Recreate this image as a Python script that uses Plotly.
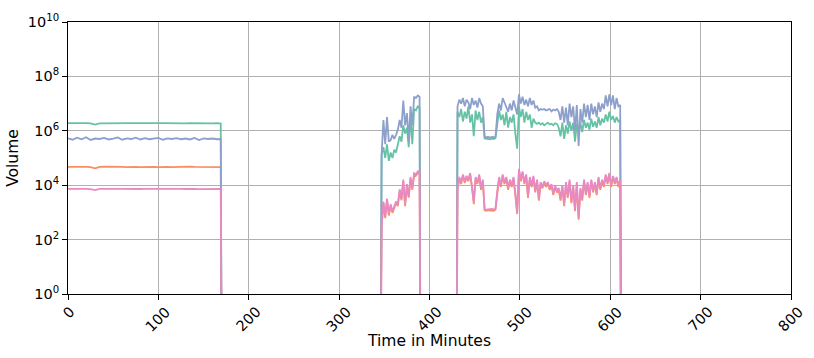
import plotly.graph_objects as go

# ---- time axis (minutes) for each active segment ----
seg1_t = list(range(0, 170, 5)) + [169]
seg2_t = list(range(347, 391, 2))
seg3_t = list(range(431, 612, 2))
gap_t = {"after1": [170], "before2": [346], "after2": [390], "before3": [430], "after3": [612]}

# ---- series values (volume) ----
green_s1 = [1.9e6, 1.92e6, 1.88e6, 1.91e6, 1.9e6, 1.87e6, 1.7e6, 1.89e6, 1.91e6, 1.9e6,
            1.88e6, 1.92e6, 1.9e6, 1.89e6, 1.91e6, 1.9e6, 1.88e6, 1.9e6, 1.91e6, 1.89e6,
            1.9e6, 1.92e6, 1.9e6, 1.88e6, 1.91e6, 1.9e6, 1.89e6, 1.93e6, 1.9e6, 1.89e6,
            1.91e6, 1.9e6, 1.88e6, 1.9e6, 1.86e6]
orange_s1 = [4.7e4, 4.8e4, 4.6e4, 4.75e4, 4.7e4, 4.65e4, 4.2e4, 4.7e4, 4.8e4, 4.7e4,
             4.6e4, 4.75e4, 4.7e4, 4.65e4, 4.8e4, 4.7e4, 4.6e4, 4.7e4, 4.75e4, 4.7e4,
             4.65e4, 4.8e4, 4.7e4, 4.6e4, 4.7e4, 4.75e4, 4.7e4, 4.8e4, 4.7e4, 4.65e4,
             4.7e4, 4.75e4, 4.7e4, 4.65e4, 4.6e4]
blue_s1 = [5.3e5, 4.7e5, 5.6e5, 4.9e5, 5.8e5, 4.6e5, 5.2e5, 5.0e5, 5.5e5, 4.8e5,
           5.2e5, 5.7e5, 4.7e5, 5.3e5, 5.0e5, 5.6e5, 4.8e5, 5.4e5, 4.9e5, 5.2e5,
           5.5e5, 4.7e5, 5.3e5, 5.0e5, 5.4e5, 4.9e5, 5.2e5, 4.8e5, 5.5e5, 4.6e5,
           5.3e5, 5.0e5, 5.2e5, 4.9e5, 5.0e5]
pink_s1 = [7.3e3, 7.4e3, 7.2e3, 7.35e3, 7.3e3, 7.2e3, 6.6e3, 7.3e3, 7.4e3, 7.3e3,
           7.2e3, 7.35e3, 7.3e3, 7.2e3, 7.4e3, 7.3e3, 7.25e3, 7.3e3, 7.35e3, 7.3e3,
           7.2e3, 7.4e3, 7.3e3, 7.2e3, 7.3e3, 7.35e3, 7.25e3, 7.4e3, 7.3e3, 7.2e3,
           7.3e3, 7.35e3, 7.3e3, 7.2e3, 7.3e3]

green_s2 = [1.3e5, 2.5e5, 1.0e5, 3.2e5, 7.9e4, 1.6e5, 1.0e5, 2.0e5, 1.6e5, 3.2e5,
            6.3e5, 4.0e5, 1.6e6, 7.9e5, 1.3e6, 2.5e5, 3.2e6, 3.2e5, 6.3e6, 5.6e6,
            7.9e6, 7.1e6]
orange_s2 = [2.8e2, 2.2e3, 6.2e2, 2.8e3, 7.7e2, 1.7e3, 9.6e2, 1.4e3, 2.2e3, 1.7e3,
             6.2e3, 2.8e3, 1.4e4, 1.7e3, 9.6e3, 3.5e3, 1.7e4, 6.8e3, 2.4e4, 2.2e4,
             2.8e4, 2.8e4]
blue_s2 = [1.3e5, 2.5e6, 3.2e5, 3.2e6, 4.0e5, 4.5e5, 7.1e5, 5.0e5, 7.1e5, 1.1e6,
           2.5e6, 1.3e6, 1.3e7, 1.6e6, 4.5e6, 4.0e5, 7.9e6, 1.6e6, 1.8e7, 1.6e7,
           2.0e7, 1.8e7]
pink_s2 = [3.2e2, 2.5e3, 7.1e2, 3.2e3, 8.9e2, 2.0e3, 1.1e3, 1.6e3, 2.5e3, 2.0e3,
           7.1e3, 3.2e3, 1.6e4, 2.0e3, 1.1e4, 4.0e3, 2.0e4, 7.9e3, 2.8e4, 2.5e4,
           3.2e4, 3.2e4]

green_s3 = [5.0e6, 3.2e6, 6.3e6, 2.2e6, 5.0e6, 2.8e6, 7.9e6, 2.0e6, 4.0e6, 6.3e5,
            5.6e6, 2.5e6, 5.0e6, 2.0e6, 3.2e6, 5.2e5, 5.0e5, 5.1e5, 4.9e5, 5.2e5,
            5.0e5, 5.4e5, 2.0e6, 5.6e6, 2.5e6, 4.0e6, 1.6e6, 5.0e6, 1.3e6, 3.2e6,
            2.0e6, 4.0e6, 7.9e5, 2.2e5, 7.9e6, 3.2e6, 6.3e6, 2.0e6, 5.0e6, 2.5e6,
            4.0e6, 1.3e6, 2.8e6, 2.0e6, 1.8e6, 2.0e6, 1.7e6, 1.9e6, 1.6e6, 1.8e6,
            2.0e6, 1.7e6, 1.8e6, 1.6e6, 1.9e6, 1.8e6, 1.3e6, 6.3e5, 2.0e6, 5.0e5,
            1.6e6, 7.9e5, 2.2e6, 1.0e6, 2.0e6, 4.0e5, 1.8e6, 7.9e5, 2.0e6, 8.9e5,
            2.5e6, 1.3e6, 2.0e6, 1.1e6, 2.8e6, 1.4e6, 2.2e6, 1.3e6, 3.2e6, 1.6e6,
            2.8e6, 2.0e6, 4.0e6, 2.2e6, 5.0e6, 2.5e6, 3.5e6, 2.0e6, 3.2e6, 2.2e6, 2.5e6]
orange_s3 = [6.8e3, 1.7e4, 1.1e4, 2.2e4, 1.2e4, 1.9e4, 1.4e4, 2.4e4, 8.6e3, 2.0e3,
             1.7e4, 1.1e4, 2.2e4, 6.8e3, 1.4e4, 1.2e3, 1.15e3, 1.2e3, 1.18e3, 1.22e3,
             1.15e3, 1.25e3, 5.4e3, 1.7e4, 8.6e3, 2.2e4, 1.1e4, 1.7e4, 6.8e3, 1.4e4,
             8.6e3, 1.7e4, 4.3e3, 8.7e2, 3.5e4, 1.4e4, 2.8e4, 1.1e4, 2.2e4, 3.4e3,
             1.7e4, 8.6e3, 1.9e4, 5.4e3, 1.4e4, 2.7e3, 1.1e4, 7.7e3, 1.2e4, 8.6e3,
             1.1e4, 6.8e3, 9.5e3, 4.3e3, 8.6e3, 5.4e3, 6.8e3, 2.7e3, 8.6e3, 1.7e3,
             1.1e4, 3.4e3, 1.4e4, 2.2e3, 8.6e3, 1.1e3, 1.1e4, 5.4e2, 6.8e3, 2.7e3,
             1.4e4, 4.3e3, 1.1e4, 3.4e3, 1.4e4, 5.4e3, 1.1e4, 4.3e3, 1.7e4, 6.8e3,
             1.4e4, 8.6e3, 2.2e4, 1.1e4, 2.4e4, 8.6e3, 1.9e4, 1.1e4, 1.7e4, 8.6e3, 1.4e4]
blue_s3 = [7.9e6, 1.4e7, 1.0e7, 1.6e7, 7.9e6, 1.4e7, 1.1e7, 6.3e6, 1.6e7, 8.9e6,
           1.3e7, 7.1e6, 1.6e7, 1.0e7, 7.9e6, 6.0e5, 5.8e5, 5.9e5, 5.6e5, 5.9e5,
           5.8e5, 6.0e5, 4.0e6, 1.0e7, 5.6e6, 1.6e7, 1.1e7, 7.9e6, 5.0e6, 1.0e7,
           5.6e6, 1.3e7, 7.1e6, 4.0e6, 2.2e7, 1.0e7, 1.8e7, 8.9e6, 1.4e7, 7.9e6,
           1.6e7, 8.9e6, 1.3e7, 7.1e6, 7.9e6, 5.6e6, 6.3e6, 6.0e6, 6.3e6, 5.6e6,
           6.0e6, 6.3e6, 5.2e6, 6.0e6, 5.6e6, 6.3e6, 5.0e6, 2.5e6, 7.9e6, 2.0e6,
           7.1e6, 1.6e6, 1.0e7, 3.2e6, 7.9e6, 1.0e6, 8.9e6, 2.8e5, 6.3e6, 2.0e6,
           1.0e7, 3.2e6, 8.9e6, 2.5e6, 1.0e7, 4.0e6, 7.9e6, 3.2e6, 1.1e7, 5.0e6,
           1.0e7, 6.3e6, 2.0e7, 7.9e6, 2.2e7, 8.9e6, 2.0e7, 6.3e6, 1.6e7, 7.9e6, 8.9e6]
pink_s3 = [7.9e3, 2.0e4, 1.3e4, 2.5e4, 1.4e4, 2.2e4, 1.6e4, 2.8e4, 1.0e4, 2.5e3,
           2.0e4, 1.3e4, 2.5e4, 7.9e3, 1.6e4, 1.3e3, 1.26e3, 1.3e3, 1.29e3, 1.35e3,
           1.26e3, 1.4e3, 6.3e3, 2.0e4, 1.0e4, 2.5e4, 1.3e4, 2.0e4, 7.9e3, 1.6e4,
           1.0e4, 2.0e4, 5.0e3, 1.0e3, 4.0e4, 1.6e4, 3.2e4, 1.3e4, 2.5e4, 4.0e3,
           2.0e4, 1.0e4, 2.2e4, 6.3e3, 1.6e4, 3.2e3, 1.3e4, 8.9e3, 1.4e4, 1.0e4,
           1.3e4, 7.9e3, 1.1e4, 5.0e3, 1.0e4, 6.3e3, 7.9e3, 3.2e3, 1.0e4, 2.0e3,
           1.3e4, 4.0e3, 1.6e4, 2.5e3, 1.0e4, 1.26e3, 1.3e4, 6.3e2, 7.9e3, 3.2e3,
           1.6e4, 5.0e3, 1.3e4, 4.0e3, 1.6e4, 6.3e3, 1.3e4, 5.0e3, 2.0e4, 7.9e3,
           1.6e4, 1.0e4, 2.5e4, 1.3e4, 2.8e4, 1.0e4, 2.2e4, 1.3e4, 2.0e4, 1.0e4, 1.6e4]

x_ticks = [0, 100, 200, 300, 400, 500, 600, 700, 800]
x_tick_labels = [str(v) for v in x_ticks]
y_ticks = [1, 1e2, 1e4, 1e6, 1e8, 1e10]
y_tick_labels = ["10<sup>0</sup>", "10<sup>2</sup>", "10<sup>4</sup>",
                 "10<sup>6</sup>", "10<sup>8</sup>", "10<sup>10</sup>"]

FLOOR = 1e-3  # zero volume drawn below the visible log range

time = (seg1_t + gap_t["after1"] + gap_t["before2"] + seg2_t + gap_t["after2"]
        + gap_t["before3"] + seg3_t + gap_t["after3"])


def assemble(s1, s2, s3):
    assert len(s1) == len(seg1_t) and len(s2) == len(seg2_t) and len(s3) == len(seg3_t)
    vals = s1 + [0, 0] + s2 + [0, 0] + s3 + [0]
    return [v if v > 0 else FLOOR for v in vals]


series = [
    ("green", "#66c2a5", green_s1, green_s2, green_s3),
    ("orange", "#fc8d62", orange_s1, orange_s2, orange_s3),
    ("blue", "#8da0cb", blue_s1, blue_s2, blue_s3),
    ("pink", "#e78ac3", pink_s1, pink_s2, pink_s3),
]

FONT = "DejaVu Sans"
FS_TICK = 14.5
FS_TITLE = 15.5
fig = go.Figure()
for name, color, s1, s2, s3 in series:
    fig.add_trace(go.Scatter(x=time, y=assemble(s1, s2, s3), mode="lines", name=name,
                             line=dict(color=color, width=1.8), showlegend=False))

for xv, lab in zip(x_ticks, x_tick_labels):
    fig.add_annotation(x=xv, y=0, xref="x", yref="paper", text=lab, showarrow=False,
                       textangle=-45, xanchor="center", yanchor="top", yshift=-7,
                       font=dict(family=FONT, size=FS_TICK, color="black"))

fig.update_layout(
    width=814, height=358,
    margin=dict(l=68, r=23, t=12, b=64),
    paper_bgcolor="white", plot_bgcolor="white",
    font=dict(family=FONT, size=FS_TICK, color="black"),
    xaxis=dict(range=[0, 800], tickmode="array", tickvals=x_ticks, showticklabels=False,
               showgrid=True, gridcolor="#b0b0b0", gridwidth=1, zeroline=False,
               showline=True, linecolor="black", linewidth=1, mirror=True,
               ticks="outside", ticklen=5, tickcolor="black",
               title=dict(text="Time in Minutes", standoff=36,
                          font=dict(family=FONT, size=FS_TITLE))),
    yaxis=dict(type="log", range=[0, 10], tickmode="array", tickvals=y_ticks,
               ticktext=y_tick_labels, showgrid=True, gridcolor="#b0b0b0", gridwidth=1,
               zeroline=False, showline=True, linecolor="black", linewidth=1, mirror=True,
               ticks="outside", ticklen=5, tickcolor="black",
               tickfont=dict(family=FONT, size=FS_TICK),
               title=dict(text="Volume", standoff=5, font=dict(family=FONT, size=FS_TITLE))),
)

fig.write_html("out.html")
